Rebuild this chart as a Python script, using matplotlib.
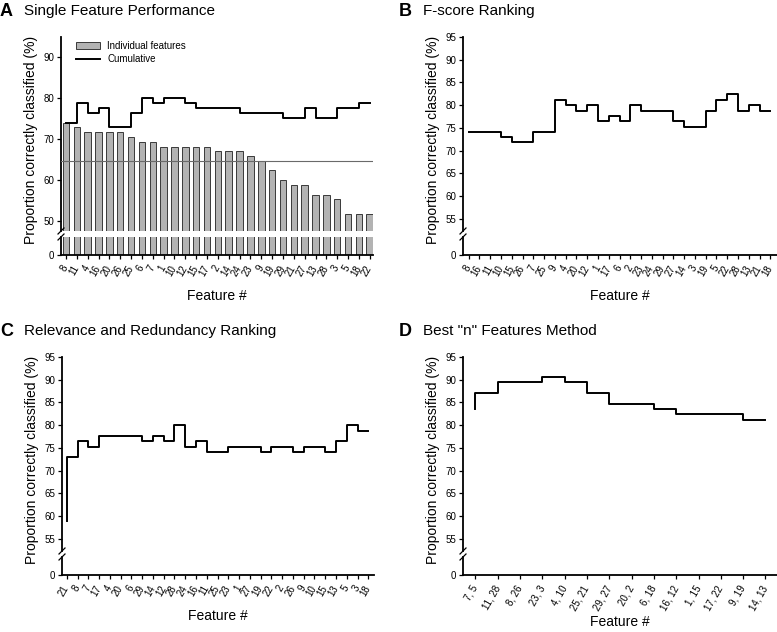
import matplotlib
matplotlib.use('Agg')
import matplotlib.pyplot as plt
from matplotlib.lines import Line2D
from matplotlib.patches import Patch

plt.rcParams['font.family'] = ['Liberation Sans', 'DejaVu Sans']

# Panel A: single feature performance + cumulative
feat_a = [8, 11, 4, 16, 20, 26, 25, 6, 7, 1, 10, 12, 15, 17, 2, 14, 24, 23, 9,
          19, 29, 21, 27, 13, 28, 3, 5, 18, 22]
single_a = [74.1, 72.9, 71.8, 71.8, 71.8, 71.8, 70.6, 69.4, 69.4, 68.2, 68.2,
            68.2, 68.2, 68.2, 67.1, 67.1, 67.1, 65.9, 64.7, 62.4, 60.0, 58.8,
            58.8, 56.5, 56.5, 55.3, 51.8, 51.8, 51.8]
cum_a = [74.1, 74.1, 78.8, 76.5, 77.6, 72.9, 72.9, 76.5, 80.0, 78.8, 80.0, 80.0,
         78.8, 77.6, 77.6, 77.6, 77.6, 76.5, 76.5, 76.5, 76.5, 75.3, 75.3, 77.6,
         75.3, 75.3, 77.6, 77.6, 78.8]
ref_line_a = 64.7

# Panel B: F-score ranking
feat_b = [8, 16, 11, 10, 15, 26, 7, 25, 9, 4, 20, 12, 1, 17, 6, 2, 23, 24, 29,
          27, 14, 3, 19, 5, 22, 28, 13, 21, 18]
cum_b = [74.1, 74.1, 74.1, 74.1, 72.9, 71.8, 71.8, 74.1, 74.1, 81.2, 80.0, 78.8,
         80.0, 76.5, 77.6, 76.5, 80.0, 78.8, 78.8, 78.8, 76.5, 75.3, 75.3, 78.8,
         81.2, 82.4, 78.8, 80.0, 78.8]

# Panel C: relevance and redundancy ranking
feat_c = [21, 8, 7, 17, 4, 20, 6, 29, 14, 12, 28, 24, 16, 11, 25, 23, 1, 27, 19,
          22, 2, 26, 9, 10, 15, 13, 5, 3, 18]
cum_c = [58.8, 72.9, 76.5, 75.3, 77.6, 77.6, 77.6, 77.6, 76.5, 77.6, 76.5, 80.0,
         75.3, 76.5, 74.1, 74.1, 75.3, 75.3, 75.3, 74.1, 75.3, 75.3, 74.1, 75.3,
         75.3, 74.1, 76.5, 80.0, 78.8]

# Panel D: best "n" features
feat_d = ["7, 5", "11, 28", "8, 26", "23, 3", "4, 10", "25, 21", "29, 27",
          "20, 2", "6, 18", "16, 12", "1, 15", "17, 22", "9, 19", "14, 13"]
cum_d = [83.5, 87.1, 89.4, 89.4, 90.6, 89.4, 87.1, 84.7, 84.7, 83.5, 82.4, 82.4,
         82.4, 81.2]

W, H = 777, 632
YLABEL = 'Proportion correctly classified (%)'


def broken_axes(fig, left, right, row):
    """Creates an upper axis (data range) and a small lower axis (the 0)."""
    off = 320 * row
    w = (right - left) / W
    upper = fig.add_axes([left / W, 1 - (off + 231) / H, w, 194 / H])
    lower = fig.add_axes([left / W, 1 - (off + 255) / H, w, 18 / H])

    for ax in (upper, lower):
        ax.spines['top'].set_visible(False)
        ax.spines['right'].set_visible(False)
        ax.spines['left'].set_linewidth(1.3)
        ax.spines['bottom'].set_linewidth(1.3)
        ax.tick_params(direction='out', length=3, width=0.9, labelsize=7,
                       pad=2)
    upper.spines['bottom'].set_visible(False)
    upper.tick_params(axis='x', bottom=False, labelbottom=False)
    lower.set_ylim(0, 4)
    lower.set_yticks([0])

    # break marks on the y axis
    for y in (off + 231, off + 237):
        fig.add_artist(Line2D([(left - 3) / W, (left + 3) / W],
                              [1 - (y + 3) / H, 1 - (y - 3) / H],
                              color='black', lw=0.9))
    return upper, lower


def finish(fig, upper, lower, labels, xlim, letter, title, title_x, row,
           xpad=8):
    n = len(labels)
    for ax in (upper, lower):
        ax.set_xlim(*xlim)
    lower.set_xticks(range(n))
    lower.set_xticklabels(labels, rotation=60, ha='right', va='center',
                          rotation_mode='anchor', fontsize=7)
    lower.tick_params(axis='x', pad=5)
    lower.set_xlabel('Feature #', fontsize=10, labelpad=xpad)
    upper.set_ylabel(YLABEL, fontsize=10, y=0.47)
    off = 320 * row
    fig.text(title_x / W, 1 - (off + 11) / H, letter, fontsize=13,
             fontweight='bold', va='center', ha='left')
    fig.text((title_x + 24) / W, 1 - (off + 11) / H, title, fontsize=11,
             va='center', ha='left')


def main():
    fig = plt.figure(figsize=(W / 100, H / 100), dpi=100)

    # ---- A ----
    up, lo = broken_axes(fig, 61, 373, 0)
    x = range(len(feat_a))
    for ax in (up, lo):
        ax.bar(x, single_a, width=0.6, color='#b3b3b3', edgecolor='#3a3a3a',
               linewidth=0.7, zorder=2)
    up.axhline(ref_line_a, color='#6a6a6a', lw=0.8, zorder=3)
    up.step(x, cum_a, where='pre', color='black', lw=1.4, zorder=4)
    up.set_ylim(47.6, 95)
    up.set_yticks([50, 60, 70, 80, 90])
    lo.set_ylim(0, 4)
    up.legend(handles=[Patch(facecolor='#b3b3b3', edgecolor='#3a3a3a',
                             linewidth=0.7, label='Individual features'),
                       Line2D([0], [0], color='black', lw=1.4,
                              label='Cumulative')],
              loc='upper left', bbox_to_anchor=(0.03, 1.01), frameon=False,
              fontsize=7, handlelength=2.4, handleheight=0.8,
              labelspacing=0.35, borderaxespad=0.2)
    finish(fig, up, lo, feat_a, (-0.46, 28.3), 'A',
           'Single Feature Performance', 0, 0)

    # ---- B ----
    up, lo = broken_axes(fig, 463, 777, 0)
    up.step(range(len(feat_b)), cum_b, where='pre', color='black', lw=1.4)
    up.set_ylim(52.3, 95)
    up.set_yticks(range(55, 96, 5))
    finish(fig, up, lo, feat_b, (-0.53, 28.62), 'B', 'F-score Ranking', 399, 0)

    # ---- C ----
    up, lo = broken_axes(fig, 62, 374, 1)
    up.step(range(len(feat_c)), cum_c, where='pre', color='black', lw=1.4)
    up.set_ylim(52.3, 95)
    up.set_yticks(range(55, 96, 5))
    finish(fig, up, lo, feat_c, (-0.44, 28.53), 'C',
           'Relevance and Redundancy Ranking', 0, 1)

    # ---- D ----
    up, lo = broken_axes(fig, 463, 777, 1)
    up.step(range(len(feat_d)), cum_d, where='pre', color='black', lw=1.4)
    up.set_ylim(52.3, 95)
    up.set_yticks(range(55, 96, 5))
    finish(fig, up, lo, feat_d, (-0.56, 13.52), 'D',
           'Best "n" Features Method', 399, 1, xpad=2)

    fig.savefig('out.png', dpi=100)
    plt.close(fig)


if __name__ == "__main__":
    main()
